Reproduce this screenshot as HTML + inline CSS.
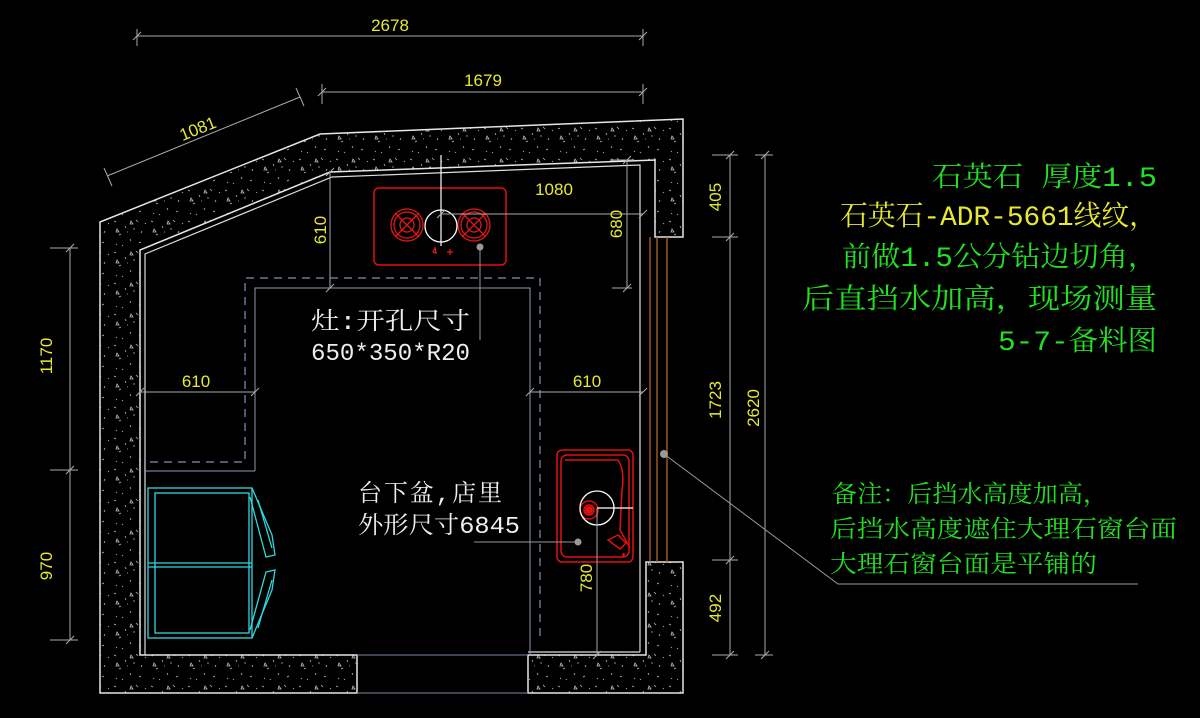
<!DOCTYPE html>
<html><head><meta charset="utf-8"><style>
html,body{margin:0;padding:0;background:#000;}
svg{display:block}
text{font-family:"Liberation Mono","Noto Serif CJK SC","Noto Sans CJK SC",monospace;}
.dim text{font-family:"Liberation Sans Narrow","Liberation Sans",sans-serif;}
</style></head><body>
<svg width="1200" height="718" viewBox="0 0 1200 718" xmlns="http://www.w3.org/2000/svg">
<defs>
<pattern id="st" width="37" height="31" patternUnits="userSpaceOnUse">
<g fill="none" stroke="#bbb" stroke-width="0.8">
<path d="M3 4l2 1M14 9l1 2M25 3l2 2M31 14l-1 2M8 18l2-1M19 22l1 2M28 26l2-1M5 27l1 1M16 15l1 0M34 6l1 1M11 29l1-1M22 12l2 0"/>
<path d="M20 4l2 3l-3 0z M6 12l2 3l-3 0z"/>
</g>
</pattern>
</defs>
<rect width="1200" height="718" fill="#000"/>

<path d="M100 222 L320 134 L683 119 L683 237 L655 237 L655 160 L330 172 L140 250 L140 655 L357 655 L357 693 L100 693 Z" fill="url(#st)" stroke="#e6e6e6" stroke-width="1.5"/>
<path d="M528 655 L646 655 L646 562 L683 562 L683 693 L528 693 Z" fill="url(#st)" stroke="#e6e6e6" stroke-width="1.5"/>
<path d="M145 655 L145 254 L332 177 L640 165 L640 652" fill="none" stroke="#ddd" stroke-width="1.2"/>
<path d="M357 655 L528 655 M357 693 L528 693" stroke="#7a8aa0" stroke-width="1"/>
<path d="M528 652 L640 652" stroke="#ddd" stroke-width="1.2"/>
<path d="M650 237 V562 M657 237 V562 M667 237 V562" stroke="#b8602a" stroke-width="1.3"/>

<path d="M255 471 V288 H530 V655" fill="none" stroke="#8a9ab0" stroke-width="1"/>
<path d="M145 471 H255" stroke="#8a9ab0" stroke-width="1"/>
<path d="M150 462 H245 V278 H540 V640" fill="none" stroke="#8090b0" stroke-width="1.2" stroke-dasharray="8,6"/>

<g fill="none" stroke="#30d8e0" stroke-width="1.3">
<rect x="148" y="488" width="104" height="150"/>
<line x1="148" y1="563" x2="252" y2="563"/>
<line x1="148" y1="567" x2="252" y2="567"/>
<rect x="155" y="493" width="94" height="140"/>
<path d="M252 488 L272 535 L275 555 L266 557 L250 497"/>
<path d="M252 638 L272 590 L275 570 L266 572 L250 630"/>
<path d="M258 500 L272 548 M258 628 L272 580"/>
</g>

<rect x="374" y="188" width="132" height="77" rx="5" fill="none" stroke="#e01010" stroke-width="1.5"/>
<g fill="none" stroke="#e01818" stroke-width="1.3">
<circle cx="407" cy="225" r="16"/><circle cx="407" cy="225" r="13"/><circle cx="407" cy="225" r="7"/>
<path d="M395 213l24 24M419 213l-24 24"/>
<circle cx="474" cy="225" r="16"/><circle cx="474" cy="225" r="13"/><circle cx="474" cy="225" r="7"/>
<path d="M462 213l24 24M486 213l-24 24"/>
<path d="M433 252l2-4l1 5z M450 249v6 M447 252h6"/>
</g>
<circle cx="441" cy="226" r="16" fill="none" stroke="#fff" stroke-width="1.3"/>
<line x1="441" y1="155" x2="441" y2="246" stroke="#fff" stroke-width="1.2"/>
<circle cx="480" cy="247" r="3.5" fill="#999"/>
<line x1="480" y1="247" x2="480" y2="340" stroke="#999" stroke-width="1"/>

<g fill="none" stroke="#e01010" stroke-width="1.5">
<rect x="557" y="450" width="76" height="112" rx="5"/>
<rect x="561" y="455" width="68" height="102" rx="6"/>
<path d="M565 460 H618 Q625 470 622 490 L620 530 L630 548"/>
<circle cx="589" cy="510" r="9"/><circle cx="589" cy="510" r="5"/>
<path d="M608 540 l10 -5 l8 8 l-6 6z M622 555 l3 0 M623.5 553 v4"/>
</g>
<circle cx="589" cy="510" r="4" fill="#e01010"/>
<circle cx="597" cy="508" r="17" fill="none" stroke="#fff" stroke-width="1.3"/>
<line x1="597" y1="508" x2="633" y2="508" stroke="#fff" stroke-width="1.2"/>
<circle cx="578" cy="542" r="3.5" fill="#999"/>
<line x1="474" y1="542" x2="578" y2="542" stroke="#999" stroke-width="1"/>

<g stroke="#aaa" stroke-width="1" fill="none">
<path d="M137 36 H643 M137 29 V46 M643 29 V46 M133 40 l8 -8 M639 40 l8 -8"/>
<path d="M322 92 H643 M322 84 V104 M643 84 V104 M318 96 l8 -8 M639 96 l8 -8"/>
<path d="M107 176 L300 97 M104 168 L112 186 M296 88 L304 106"/>
<path d="M70 248 V640 M50 248 H78 M50 470 H78 M50 640 H78 M66 252 l8 -8 M66 474 l8 -8 M66 644 l8 -8"/>
<path d="M730 155 V655 M712 155 H738 M712 237 H738 M712 560 H738 M712 655 H738 M726 159 l8 -8 M726 241 l8 -8 M726 564 l8 -8 M726 659 l8 -8"/>
<path d="M765 155 V655 M755 155 H773 M755 655 H773 M761 159 l8 -8 M761 659 l8 -8"/>
<path d="M330 172 V288 M326 176 l8 -8 M326 292 l8 -8"/>
<path d="M441 214 H643 M437 218 l8 -8 M639 218 l8 -8"/>
<path d="M627 160 V288 M610 160 H632 M612 288 H632 M623 164 l8 -8 M623 292 l8 -8"/>
<path d="M140 392 H255 M136 396 l8 -8 M251 396 l8 -8"/>
<path d="M530 392 H643 M526 396 l8 -8 M639 396 l8 -8"/>
<path d="M597 508 V655 M593 659 l8 -8"/>
</g>
<circle cx="664" cy="454" r="4" fill="#999"/>
<path d="M664 454 L838 584 H1138" stroke="#999" stroke-width="1" fill="none"/>

<g class="dim" fill="#e8e830" font-size="17">
<text x="390" y="31" text-anchor="middle">2678</text>
<text x="483" y="86" text-anchor="middle">1679</text>
<text x="200" y="134" text-anchor="middle" transform="rotate(-22 200 134)">1081</text>
<text x="554" y="195" text-anchor="middle">1080</text>
<text x="196" y="387" text-anchor="middle">610</text>
<text x="587" y="387" text-anchor="middle">610</text>
<text transform="translate(326 230) rotate(-90)" text-anchor="middle">610</text>
<text transform="translate(622 224) rotate(-90)" text-anchor="middle">680</text>
<text transform="translate(52 356) rotate(-90)" text-anchor="middle">1170</text>
<text transform="translate(52 566) rotate(-90)" text-anchor="middle">970</text>
<text transform="translate(721 197) rotate(-90)" text-anchor="middle">405</text>
<text transform="translate(721 400) rotate(-90)" text-anchor="middle">1723</text>
<text transform="translate(721 608) rotate(-90)" text-anchor="middle">492</text>
<text transform="translate(759 408) rotate(-90)" text-anchor="middle">2620</text>
<text transform="translate(592 578) rotate(-90)" text-anchor="middle">780</text>
</g>

<g fill="#eee" font-size="24">
<text x="311" y="329" textLength="159" lengthAdjust="spacingAndGlyphs">灶:开孔尺寸</text>
<text x="311" y="360" textLength="159" lengthAdjust="spacingAndGlyphs">650*350*R20</text>
<text x="358" y="501" textLength="144" lengthAdjust="spacing">台下盆,店里</text>
<text x="358" y="533" textLength="162" lengthAdjust="spacingAndGlyphs">外形尺寸6845</text>
</g>

<g font-size="28">
<text x="932" y="186" fill="#22e022" textLength="225" lengthAdjust="spacingAndGlyphs">石英石 厚度1.5</text>
<text x="840" y="225" fill="#e8e830" textLength="317" lengthAdjust="spacingAndGlyphs">石英石-ADR-5661线纹，</text>
<text x="842" y="266" fill="#22e022" textLength="315" lengthAdjust="spacingAndGlyphs">前做1.5公分钻边切角，</text>
<text x="802" y="308" fill="#22e022" textLength="355" lengthAdjust="spacingAndGlyphs">后直挡水加高，现场测量</text>
<text x="998" y="350" fill="#22e022" textLength="159" lengthAdjust="spacingAndGlyphs">5-7-备料图</text>
</g>
<g font-size="24" fill="#22e022">
<text x="832" y="502" textLength="276" lengthAdjust="spacingAndGlyphs">备注：后挡水高度加高，</text>
<text x="830" y="537" textLength="347" lengthAdjust="spacingAndGlyphs">后挡水高度遮住大理石窗台面</text>
<text x="830" y="572" textLength="267" lengthAdjust="spacingAndGlyphs">大理石窗台面是平铺的</text>
</g>
</svg>
</body></html>
